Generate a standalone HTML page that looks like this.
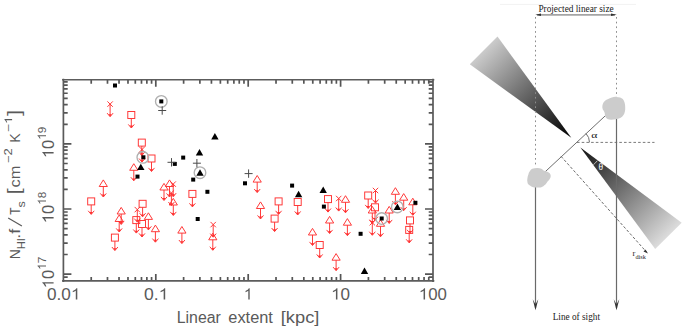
<!DOCTYPE html><html><head><meta charset="utf-8"><style>html,body{margin:0;padding:0;background:#fff;width:685px;height:330px;overflow:hidden}svg{display:block}.s{font-family:"Liberation Sans",sans-serif;fill:#5a5a5a}.g1 path{fill:#5a5a5a}.r{font-family:"Liberation Serif",serif;fill:#1a1a1a}.red{fill:none;stroke:#ff3030;stroke-width:0.95}.red .ah{fill:#ff3030;stroke:none}</style></head><body><svg width="685" height="330" viewBox="0 0 685 330"><g class="red"><rect x="127.8" y="111.5" width="7" height="7"/><path d="M131.3 118.5V127M128.3 124.4L131.3 128L134.3 124.4"/><path d="M129.7 125.6L131.3 128L132.9 125.6Z" class="ah"/><rect x="138.3" y="139.1" width="7" height="7"/><path d="M141.8 146.1V154.6M138.8 152L141.8 155.6L144.8 152"/><path d="M140.2 153.2L141.8 155.6L143.4 153.2Z" class="ah"/><rect x="148" y="155" width="7" height="7"/><path d="M151.5 162V170.5M148.5 167.9L151.5 171.5L154.5 167.9"/><path d="M149.9 169.1L151.5 171.5L153.1 169.1Z" class="ah"/><rect x="87.7" y="197.9" width="7" height="7"/><path d="M91.2 204.9V213.4M88.2 210.8L91.2 214.4L94.2 210.8"/><path d="M89.6 212L91.2 214.4L92.8 212Z" class="ah"/><rect x="139.1" y="200.3" width="7" height="7"/><path d="M142.6 207.3V215.8M139.6 213.2L142.6 216.8L145.6 213.2"/><path d="M141 214.4L142.6 216.8L144.2 214.4Z" class="ah"/><rect x="132.8" y="216.6" width="7" height="7"/><path d="M136.3 223.6V232.1M133.3 229.5L136.3 233.1L139.3 229.5"/><path d="M134.7 230.7L136.3 233.1L137.9 230.7Z" class="ah"/><rect x="138.5" y="220.5" width="7" height="7"/><path d="M142 227.5V236M139 233.4L142 237L145 233.4"/><path d="M140.4 234.6L142 237L143.6 234.6Z" class="ah"/><rect x="111.4" y="234.1" width="7" height="7"/><path d="M114.9 241.1V249.6M111.9 247L114.9 250.6L117.9 247"/><path d="M113.3 248.2L114.9 250.6L116.5 248.2Z" class="ah"/><rect x="188.9" y="190.4" width="7" height="7"/><path d="M192.4 197.4V205.9M189.4 203.3L192.4 206.9L195.4 203.3"/><path d="M190.8 204.5L192.4 206.9L194 204.5Z" class="ah"/><rect x="275.1" y="197.9" width="7" height="7"/><path d="M278.6 204.9V213.4M275.6 210.8L278.6 214.4L281.6 210.8"/><path d="M277 212L278.6 214.4L280.2 212Z" class="ah"/><rect x="271.1" y="215.1" width="7" height="7"/><path d="M274.6 222.1V230.6M271.6 228L274.6 231.6L277.6 228"/><path d="M273 229.2L274.6 231.6L276.2 229.2Z" class="ah"/><rect x="294.2" y="198.5" width="7" height="7"/><path d="M297.7 205.5V214M294.7 211.4L297.7 215L300.7 211.4"/><path d="M296.1 212.6L297.7 215L299.3 212.6Z" class="ah"/><rect x="324.5" y="195.6" width="7" height="7"/><path d="M328 202.6V211.1M325 208.5L328 212.1L331 208.5"/><path d="M326.4 209.7L328 212.1L329.6 209.7Z" class="ah"/><rect x="316.2" y="241.5" width="7" height="7"/><path d="M319.7 248.5V257M316.7 254.4L319.7 258L322.7 254.4"/><path d="M318.1 255.6L319.7 258L321.3 255.6Z" class="ah"/><rect x="364.7" y="192" width="7" height="7"/><path d="M368.2 199V207.5M365.2 204.9L368.2 208.5L371.2 204.9"/><path d="M366.6 206.1L368.2 208.5L369.8 206.1Z" class="ah"/><rect x="371.5" y="203.8" width="7" height="7"/><path d="M375 210.8V219.3M372 216.7L375 220.3L378 216.7"/><path d="M373.4 217.9L375 220.3L376.6 217.9Z" class="ah"/><rect x="406.5" y="216.9" width="7" height="7"/><path d="M410 223.9V232.4M407 229.8L410 233.4L413 229.8"/><path d="M408.4 231L410 233.4L411.6 231Z" class="ah"/><rect x="405.7" y="226.4" width="7" height="7"/><path d="M409.2 233.4V241.9M406.2 239.3L409.2 242.9L412.2 239.3"/><path d="M407.6 240.5L409.2 242.9L410.8 240.5Z" class="ah"/><path d="M103.3 179.9L107.4 186.5L99.2 186.5Z"/><path d="M103.3 186.5V196M100.3 193.4L103.3 197L106.3 193.4"/><path d="M101.7 194.6L103.3 197L104.9 194.6Z" class="ah"/><path d="M133.8 163.7L137.9 170.3L129.7 170.3Z"/><path d="M133.8 170.3V179.8M130.8 177.2L133.8 180.8L136.8 177.2"/><path d="M132.2 178.4L133.8 180.8L135.4 178.4Z" class="ah"/><path d="M121.2 207.4L125.3 214L117.1 214Z"/><path d="M121.2 214V223.5M118.2 220.9L121.2 224.5L124.2 220.9"/><path d="M119.6 222.1L121.2 224.5L122.8 222.1Z" class="ah"/><path d="M119.2 214.9L123.3 221.5L115.1 221.5Z"/><path d="M119.2 221.5V231M116.2 228.4L119.2 232L122.2 228.4"/><path d="M117.6 229.6L119.2 232L120.8 229.6Z" class="ah"/><path d="M148.4 212.8L152.5 219.4L144.3 219.4Z"/><path d="M148.4 219.4V228.9M145.4 226.3L148.4 229.9L151.4 226.3"/><path d="M146.8 227.5L148.4 229.9L150 227.5Z" class="ah"/><path d="M155.4 225.1L159.5 231.7L151.3 231.7Z"/><path d="M155.4 231.7V241.2M152.4 238.6L155.4 242.2L158.4 238.6"/><path d="M153.8 239.8L155.4 242.2L157 239.8Z" class="ah"/><path d="M164 183.4L168.1 190L159.9 190Z"/><path d="M164 190V199.5M161 196.9L164 200.5L167 196.9"/><path d="M162.4 198.1L164 200.5L165.6 198.1Z" class="ah"/><path d="M169.5 179.9L173.6 186.5L165.4 186.5Z"/><path d="M169.5 186.5V196M166.5 193.4L169.5 197L172.5 193.4"/><path d="M167.9 194.6L169.5 197L171.1 194.6Z" class="ah"/><path d="M173.3 198.4L177.4 205L169.2 205Z"/><path d="M173.3 205V214.5M170.3 211.9L173.3 215.5L176.3 211.9"/><path d="M171.7 213.1L173.3 215.5L174.9 213.1Z" class="ah"/><path d="M181.9 226.5L186 233.1L177.8 233.1Z"/><path d="M181.9 233.1V242.6M178.9 240L181.9 243.6L184.9 240"/><path d="M180.3 241.2L181.9 243.6L183.5 241.2Z" class="ah"/><path d="M212.8 233.2L216.9 239.8L208.7 239.8Z"/><path d="M212.8 239.8V249.3M209.8 246.7L212.8 250.3L215.8 246.7"/><path d="M211.2 247.9L212.8 250.3L214.4 247.9Z" class="ah"/><path d="M257.2 175.5L261.3 182.1L253.1 182.1Z"/><path d="M257.2 182.1V191.6M254.2 189L257.2 192.6L260.2 189"/><path d="M255.6 190.2L257.2 192.6L258.8 190.2Z" class="ah"/><path d="M260.5 201.9L264.6 208.5L256.4 208.5Z"/><path d="M260.5 208.5V218M257.5 215.4L260.5 219L263.5 215.4"/><path d="M258.9 216.6L260.5 219L262.1 216.6Z" class="ah"/><path d="M345.5 195.7L349.6 202.3L341.4 202.3Z"/><path d="M345.5 202.3V211.8M342.5 209.2L345.5 212.8L348.5 209.2"/><path d="M343.9 210.4L345.5 212.8L347.1 210.4Z" class="ah"/><path d="M312.5 228.4L316.6 235L308.4 235Z"/><path d="M312.5 235V244.5M309.5 241.9L312.5 245.5L315.5 241.9"/><path d="M310.9 243.1L312.5 245.5L314.1 243.1Z" class="ah"/><path d="M329.6 216.4L333.7 223L325.5 223Z"/><path d="M329.6 223V232.5M326.6 229.9L329.6 233.5L332.6 229.9"/><path d="M328 231.1L329.6 233.5L331.2 231.1Z" class="ah"/><path d="M347.4 218.6L351.5 225.2L343.3 225.2Z"/><path d="M347.4 225.2V234.7M344.4 232.1L347.4 235.7L350.4 232.1"/><path d="M345.8 233.3L347.4 235.7L349 233.3Z" class="ah"/><path d="M336.1 253.6L340.2 260.2L332 260.2Z"/><path d="M336.1 260.2V269.7M333.1 267.1L336.1 270.7L339.1 267.1"/><path d="M334.5 268.3L336.1 270.7L337.7 268.3Z" class="ah"/><path d="M372.3 206.4L376.4 213L368.2 213Z"/><path d="M372.3 213V222.5M369.3 219.9L372.3 223.5L375.3 219.9"/><path d="M370.7 221.1L372.3 223.5L373.9 221.1Z" class="ah"/><path d="M380.5 219.7L384.6 226.3L376.4 226.3Z"/><path d="M380.5 226.3V235.8M377.5 233.2L380.5 236.8L383.5 233.2"/><path d="M378.9 234.4L380.5 236.8L382.1 234.4Z" class="ah"/><path d="M389.2 206.4L393.3 213L385.1 213Z"/><path d="M389.2 213V222.5M386.2 219.9L389.2 223.5L392.2 219.9"/><path d="M387.6 221.1L389.2 223.5L390.8 221.1Z" class="ah"/><path d="M395.4 187.7L399.5 194.3L391.3 194.3Z"/><path d="M395.4 194.3V203.8M392.4 201.2L395.4 204.8L398.4 201.2"/><path d="M393.8 202.4L395.4 204.8L397 202.4Z" class="ah"/><path d="M403.7 193.6L407.8 200.2L399.6 200.2Z"/><path d="M403.7 200.2V209.7M400.7 207.1L403.7 210.7L406.7 207.1"/><path d="M402.1 208.3L403.7 210.7L405.3 208.3Z" class="ah"/><path d="M412.8 198.2L416.9 204.8L408.7 204.8Z"/><path d="M412.8 204.8V214.3M409.8 211.7L412.8 215.3L415.8 211.7"/><path d="M411.2 212.9L412.8 215.3L414.4 212.9Z" class="ah"/><path d="M107.4 101.4L112.8 106.8M107.4 106.8L112.8 101.4"/><path d="M110.1 104.1V115.7M107.1 113.1L110.1 116.7L113.1 113.1"/><path d="M108.5 114.3L110.1 116.7L111.7 114.3Z" class="ah"/><path d="M134.6 206.9L140 212.3M134.6 212.3L140 206.9"/><path d="M137.3 209.6V221.2M134.3 218.6L137.3 222.2L140.3 218.6"/><path d="M135.7 219.8L137.3 222.2L138.9 219.8Z" class="ah"/><path d="M170.5 181.4L175.9 186.8M170.5 186.8L175.9 181.4"/><path d="M173.2 184.1V195.7M170.2 193.1L173.2 196.7L176.2 193.1"/><path d="M171.6 194.3L173.2 196.7L174.8 194.3Z" class="ah"/><path d="M168.7 190.3L174.1 195.7M168.7 195.7L174.1 190.3"/><path d="M171.4 193V204.6M168.4 202L171.4 205.6L174.4 202"/><path d="M169.8 203.2L171.4 205.6L173 203.2Z" class="ah"/><path d="M210.5 221.9L215.9 227.3M210.5 227.3L215.9 221.9"/><path d="M213.2 224.6V236.2M210.2 233.6L213.2 237.2L216.2 233.6"/><path d="M211.6 234.8L213.2 237.2L214.8 234.8Z" class="ah"/><path d="M336 195.8L341.4 201.2M336 201.2L341.4 195.8"/><path d="M338.7 198.5V210.1M335.7 207.5L338.7 211.1L341.7 207.5"/><path d="M337.1 208.7L338.7 211.1L340.3 208.7Z" class="ah"/><path d="M372.8 187.8L378.2 193.2M372.8 193.2L378.2 187.8"/><path d="M375.5 190.5V202.1M372.5 199.5L375.5 203.1L378.5 199.5"/><path d="M373.9 200.7L375.5 203.1L377.1 200.7Z" class="ah"/><path d="M369.6 220L375 225.4M369.6 225.4L375 220"/><path d="M372.3 222.7V234.3M369.3 231.7L372.3 235.3L375.3 231.7"/><path d="M370.7 232.9L372.3 235.3L373.9 232.9Z" class="ah"/><path d="M139.3 146.8L144.7 152.2M139.3 152.2L144.7 146.8"/><path d="M142 149.5V161.1M139 158.5L142 162.1L145 158.5"/><path d="M140.4 159.7L142 162.1L143.6 159.7Z" class="ah"/></g><g fill="none" stroke="#b0b0b0" stroke-width="1.35"><circle cx="161.3" cy="101.4" r="5.8"/><circle cx="142.8" cy="157.3" r="5.8"/><circle cx="200" cy="172.7" r="5.8"/><circle cx="381.7" cy="218.5" r="5.8"/><circle cx="397.3" cy="206.9" r="5.8"/></g><g fill="#000"><rect x="113" y="83.5" width="4" height="4"/><rect x="141.4" y="155.3" width="4" height="4"/><rect x="135.5" y="174.6" width="4" height="4"/><rect x="172.8" y="161.9" width="4" height="4"/><rect x="181.2" y="155.6" width="4" height="4"/><rect x="191.2" y="177.6" width="4" height="4"/><rect x="205.4" y="189.8" width="4" height="4"/><rect x="195.7" y="217" width="4" height="4"/><rect x="243" y="181.3" width="4" height="4"/><rect x="290.1" y="183.6" width="4" height="4"/><rect x="321.9" y="204.6" width="4" height="4"/><rect x="358.6" y="231.8" width="4" height="4"/><rect x="379.7" y="216.5" width="4" height="4"/><rect x="413.4" y="200.8" width="4" height="4"/><rect x="159.3" y="99.4" width="4" height="4"/><path d="M140.8 163.7L144.5 170.1L137.1 170.1Z"/><path d="M199.5 149.1L203.2 155.5L195.8 155.5Z"/><path d="M200 169.3L203.7 175.7L196.3 175.7Z"/><path d="M214.9 133L218.6 139.4L211.2 139.4Z"/><path d="M298.6 190.8L302.3 197.2L294.9 197.2Z"/><path d="M323.2 186.5L326.9 192.9L319.5 192.9Z"/><path d="M364.5 267.5L368.2 273.9L360.8 273.9Z"/><path d="M397.4 203.6L401.1 210L393.7 210Z"/></g><g stroke="#4a4a4a" stroke-width="1" fill="none"><path d="M158.2 110.5H166.2M162.2 106.3V114.7"/><path d="M167.5 162.3H175.5M171.5 158.1V166.5"/><path d="M192.9 163.2H200.9M196.9 159V167.4"/><path d="M244.6 173.6H252.6M248.6 169.4V177.8"/></g><path d="M91.22 280.9v-4M91.22 79.7v4M107.49 280.9v-4M107.49 79.7v4M119.03 280.9v-4M119.03 79.7v4M127.98 280.9v-4M127.98 79.7v4M135.3 280.9v-4M135.3 79.7v4M141.49 280.9v-4M141.49 79.7v4M146.85 280.9v-4M146.85 79.7v4M151.57 280.9v-4M151.57 79.7v4M155.8 280.9v-7M155.8 79.7v7M183.62 280.9v-4M183.62 79.7v4M199.89 280.9v-4M199.89 79.7v4M211.43 280.9v-4M211.43 79.7v4M220.38 280.9v-4M220.38 79.7v4M227.7 280.9v-4M227.7 79.7v4M233.89 280.9v-4M233.89 79.7v4M239.25 280.9v-4M239.25 79.7v4M243.97 280.9v-4M243.97 79.7v4M248.2 280.9v-7M248.2 79.7v7M276.02 280.9v-4M276.02 79.7v4M292.29 280.9v-4M292.29 79.7v4M303.83 280.9v-4M303.83 79.7v4M312.78 280.9v-4M312.78 79.7v4M320.1 280.9v-4M320.1 79.7v4M326.29 280.9v-4M326.29 79.7v4M331.65 280.9v-4M331.65 79.7v4M336.37 280.9v-4M336.37 79.7v4M340.6 280.9v-7M340.6 79.7v7M368.42 280.9v-4M368.42 79.7v4M384.69 280.9v-4M384.69 79.7v4M396.23 280.9v-4M396.23 79.7v4M405.18 280.9v-4M405.18 79.7v4M412.5 280.9v-4M412.5 79.7v4M418.69 280.9v-4M418.69 79.7v4M424.05 280.9v-4M424.05 79.7v4M428.77 280.9v-4M428.77 79.7v4M63.4 277.08h4.3M433 277.08h-4.3M63.4 274.1h8M433 274.1h-8M63.4 254.5h4.3M433 254.5h-4.3M63.4 243.04h4.3M433 243.04h-4.3M63.4 234.91h4.3M433 234.91h-4.3M63.4 228.6h4.3M433 228.6h-4.3M63.4 223.44h4.3M433 223.44h-4.3M63.4 219.08h4.3M433 219.08h-4.3M63.4 215.31h4.3M433 215.31h-4.3M63.4 211.98h4.3M433 211.98h-4.3M63.4 209h8M433 209h-8M63.4 189.4h4.3M433 189.4h-4.3M63.4 177.94h4.3M433 177.94h-4.3M63.4 169.81h4.3M433 169.81h-4.3M63.4 163.5h4.3M433 163.5h-4.3M63.4 158.34h4.3M433 158.34h-4.3M63.4 153.98h4.3M433 153.98h-4.3M63.4 150.21h4.3M433 150.21h-4.3M63.4 146.88h4.3M433 146.88h-4.3M63.4 143.9h8M433 143.9h-8M63.4 124.3h4.3M433 124.3h-4.3M63.4 112.84h4.3M433 112.84h-4.3M63.4 104.71h4.3M433 104.71h-4.3M63.4 98.4h4.3M433 98.4h-4.3M63.4 93.24h4.3M433 93.24h-4.3M63.4 88.88h4.3M433 88.88h-4.3M63.4 85.11h4.3M433 85.11h-4.3M63.4 81.78h4.3M433 81.78h-4.3" stroke="#555" stroke-width="1.7" fill="none"/><path d="M62.1 79.7H434.3M62.1 280.9H434.3" stroke="#5c5c5c" stroke-width="1.6" fill="none"/><path d="M63.4 78.7V282M433 78.7V282" stroke="#5a5a5a" stroke-width="1.7" fill="none"/><g class="g1" transform="translate(47.7 299.5) scale(1.0941 1) translate(-0.61 0)"><text class="s" x="0" y="0" font-size="15.7">0.0</text><path d="M26.28 0L27.67 0L27.67 -11.24L26.82 -11.24C26.41 -10.28 25.36 -9.39 23.51 -8.54L23.51 -7.21C24.65 -7.65 25.67 -8.2 26.28 -8.79Z"/></g><g class="g1" transform="translate(144.7 299.5) scale(1.1189 1) translate(-0.61 0)"><text class="s" x="0" y="0" font-size="15.7">0.</text><path d="M17.55 0L18.93 0L18.93 -11.24L18.09 -11.24C17.68 -10.28 16.63 -9.39 14.77 -8.54L14.77 -7.21C15.92 -7.65 16.94 -8.2 17.55 -8.79Z"/></g><g class="g1" transform="translate(245.52 299.5) scale(1.0000 1) translate(-1.68 0)"><path d="M4.46 0L5.84 0L5.84 -11.24L4.99 -11.24C4.58 -10.28 3.53 -9.39 1.68 -8.54L1.68 -7.21C2.83 -7.65 3.85 -8.2 4.46 -8.79Z"/></g><g class="g1" transform="translate(332.9 299.5) scale(1.0878 1) translate(-1.68 0)"><path d="M4.46 0L5.84 0L5.84 -11.24L4.99 -11.24C4.58 -10.28 3.53 -9.39 1.68 -8.54L1.68 -7.21C2.83 -7.65 3.85 -8.2 4.46 -8.79Z"/><text class="s" x="8.73" y="0" font-size="15.7">0</text></g><g class="g1" transform="translate(420.6 299.5) scale(1.0711 1) translate(-1.68 0)"><path d="M4.46 0L5.84 0L5.84 -11.24L4.99 -11.24C4.58 -10.28 3.53 -9.39 1.68 -8.54L1.68 -7.21C2.83 -7.65 3.85 -8.2 4.46 -8.79Z"/><text class="s" x="8.73" y="0" font-size="15.7">00</text></g><g class="g1" transform="translate(53.6 156.3) rotate(-90) scale(1.0482 1) translate(-1.68 0)"><path d="M4.46 0L5.84 0L5.84 -11.24L4.99 -11.24C4.58 -10.28 3.53 -9.39 1.68 -8.54L1.68 -7.21C2.83 -7.65 3.85 -8.2 4.46 -8.79Z"/><text class="s" x="8.73" y="0" font-size="15.7">0</text></g><g class="g1" transform="translate(46 138.4) rotate(-90) scale(0.9906 1) translate(-1.26 0)"><path d="M3.35 0L4.39 0L4.39 -8.45L3.75 -8.45C3.45 -7.73 2.66 -7.06 1.26 -6.42L1.26 -5.42C2.12 -5.75 2.89 -6.16 3.35 -6.61Z"/><text class="s" x="6.56" y="0" font-size="11.8">9</text></g><g class="g1" transform="translate(53.6 221.4) rotate(-90) scale(1.0482 1) translate(-1.68 0)"><path d="M4.46 0L5.84 0L5.84 -11.24L4.99 -11.24C4.58 -10.28 3.53 -9.39 1.68 -8.54L1.68 -7.21C2.83 -7.65 3.85 -8.2 4.46 -8.79Z"/><text class="s" x="8.73" y="0" font-size="15.7">0</text></g><g class="g1" transform="translate(46 203.5) rotate(-90) scale(0.9865 1) translate(-1.26 0)"><path d="M3.35 0L4.39 0L4.39 -8.45L3.75 -8.45C3.45 -7.73 2.66 -7.06 1.26 -6.42L1.26 -5.42C2.12 -5.75 2.89 -6.16 3.35 -6.61Z"/><text class="s" x="6.56" y="0" font-size="11.8">8</text></g><g class="g1" transform="translate(53.6 286.5) rotate(-90) scale(1.0482 1) translate(-1.68 0)"><path d="M4.46 0L5.84 0L5.84 -11.24L4.99 -11.24C4.58 -10.28 3.53 -9.39 1.68 -8.54L1.68 -7.21C2.83 -7.65 3.85 -8.2 4.46 -8.79Z"/><text class="s" x="8.73" y="0" font-size="15.7">0</text></g><g class="g1" transform="translate(46 268.6) rotate(-90) scale(0.9937 1) translate(-1.26 0)"><path d="M3.35 0L4.39 0L4.39 -8.45L3.75 -8.45C3.45 -7.73 2.66 -7.06 1.26 -6.42L1.26 -5.42C2.12 -5.75 2.89 -6.16 3.35 -6.61Z"/><text class="s" x="6.56" y="0" font-size="11.8">7</text></g><text class="s" font-size="16" transform="translate(178 323.2) scale(0.9931 1) translate(-1.31 0)">Linear</text><text class="s" font-size="16" transform="translate(229 323.2) scale(1.0234 1) translate(-0.67 0)">extent</text><text class="s" font-size="16" transform="translate(282.1 323.2) scale(1.1421 1) translate(-1.14 0)">[kpc]</text><text class="s" font-size="14.2" transform="translate(19.9 258.2) rotate(-90) scale(0.9826 1) translate(-1.16 0)">N</text><text class="s" font-size="10.6" transform="translate(25.4 248.4) rotate(-90) scale(1.0508 1) translate(-0.87 0)">HI</text><text class="s" font-size="14.2" transform="translate(19.9 237.2) rotate(-90) scale(1.2543 1) translate(-1.29 0)">.f</text><text class="s" font-size="14.2" transform="translate(19.9 214.4) rotate(-90) scale(0.8336 1) translate(-0.31 0)">T</text><text class="s" font-size="10.6" transform="translate(25.4 207.1) rotate(-90) scale(1.1901 1) translate(-0.3 0)">s</text><text class="s" font-size="17.5" transform="translate(19.6 192.8) rotate(-90) scale(1.2060 1) translate(-1.24 0)">[</text><text class="s" font-size="14.2" transform="translate(19.9 186.7) rotate(-90) scale(1.1555 1) translate(-0.6 0)">cm</text><text class="s" font-size="10.6" transform="translate(12.1 162.5) rotate(-90) scale(1.2325 1) translate(-0.52 0)">&#8722;2</text><text class="s" font-size="14.2" transform="translate(19.9 141.6) rotate(-90) scale(0.9955 1) translate(-1.16 0)">K</text><g class="g1" transform="translate(12.1 131.6) rotate(-90) scale(1.3210 1) translate(-0.52 0)"><text class="s" x="0" y="0" font-size="10.6">&#8722;</text><path d="M9.2 0L10.13 0L10.13 -7.59L9.56 -7.59C9.29 -6.94 8.58 -6.34 7.32 -5.77L7.32 -4.87C8.1 -5.16 8.79 -5.53 9.2 -5.94Z"/></g><text class="s" font-size="17.5" transform="translate(19.6 115.9) rotate(-90) scale(1.2635 1) translate(-0.14 0)">]</text><line x1="21.9" y1="225.9" x2="8.2" y2="218" stroke="#5a5a5a" stroke-width="1.2"/><line x1="500" y1="4.4" x2="636" y2="4.4" stroke="#f2f2f2" stroke-width="1"/><defs><linearGradient id="gL" gradientUnits="userSpaceOnUse" x1="483.7" y1="50.5" x2="571.3" y2="137.8"><stop offset="0" stop-color="#cbcbcb"/><stop offset="1" stop-color="#000"/></linearGradient><linearGradient id="gR" gradientUnits="userSpaceOnUse" x1="580.4" y1="147.6" x2="668.5" y2="235.8"><stop offset="0" stop-color="#111"/><stop offset="1" stop-color="#dcdcdc"/></linearGradient></defs><path d="M497.5 36.6L469.8 64.3L571.3 137.8Z" fill="url(#gL)"/><path d="M580.4 147.6L681.7 222.7L655.2 248.9Z" fill="url(#gR)"/><path d="M597.4 160.6A21.5 21.5 0 0 1 593.4 164.7" fill="none" stroke="#d8d8d8" stroke-width="0.85"/><text class="r" x="598.5" y="170" font-size="9.6" style="fill:#fff">&#952;</text><g stroke="#7a7a7a" stroke-width="1" fill="none"><path d="M535.5 17V167M616.5 17V97" stroke-dasharray="1.7 3" stroke="#8c8c8c"/><path d="M577 142.4H654.5" stroke-dasharray="2.6 2.1"/><path d="M561 156.3L646.5 252" stroke-dasharray="2.8 1.9" stroke="#6a6a6a"/></g><g stroke="#6e6e6e" stroke-width="1" fill="none"><path d="M537 14.8H615" stroke="#a4a4a4" stroke-width="1.7"/><path d="M535.5 186V308M616.5 118V308" stroke="#6a6a6a" stroke-width="1.2"/><path d="M539 177.5L613 108.6"/><path d="M585.9 133.4A13 13 0 0 1 589.5 142.4"/></g><g fill="#333"><path d="M535.3 14.8L541 13.5L541 16.1Z"/><path d="M616.8 14.8L611 13.5L611 16.1Z"/><path d="M535.5 310.3L532.7 299.2L535.5 304.5L538.3 299.2Z"/><path d="M616.5 310.3L613.7 299.2L616.5 304.5L619.3 299.2Z"/><path d="M648 253.5L643.5 251.5L645.5 249.5Z"/></g><path d="M607.7 99.3C611 97.5 614 96.6 616.4 96.9C619 97 621.5 97.5 622.8 99C624.5 101 625.2 104 625.2 107C625.4 110.5 624.8 113 623.5 115C622 117.5 619 119 615.5 119.3C612.5 119.8 609.5 120 607.5 119C605.5 118 604.8 116 604.8 113.5C604.5 111.5 603.5 110.5 602.8 109.5C602 107.5 602.2 104.5 603.5 102.5C604.5 101 606 100 607.7 99.3Z" fill="#cccccc"/><path d="M532.2 168.8C535 167.8 539 167.5 541.4 168.8C542.5 169.5 543.2 170.3 543.9 170.8C545.5 170.8 548 171.8 549.7 173.2C551 174.5 551.2 177 549.7 179C548.8 180.3 547.8 181.2 547.3 181.9C546.3 183.5 545.5 184.5 544.4 185.3C543 186.8 541.5 187.3 540.5 187.4C538 187.6 536 187.6 534.7 187.4C532.5 187.2 531 186.6 530.3 185.8C528.6 184.8 527.6 183.6 527.5 182.4C527.1 181 527.1 179.7 527.4 178.5C527.5 177 527.8 175.8 528.3 174.7C528.6 173.3 529 172.2 529.8 171.3C530.5 170 531.2 169.3 532.2 168.8Z" fill="#cccccc"/><text class="r" x="538.4" y="11.9" font-size="10" textLength="75.3" lengthAdjust="spacingAndGlyphs">Projected linear size</text><text class="r" x="552.7" y="319.5" font-size="9.5" textLength="47.3" lengthAdjust="spacingAndGlyphs">Line of sight</text><text class="r" font-size="10.5" transform="translate(591.2 137.7) scale(1.12 0.86)" style="fill:#111">&#945;</text><text class="r" x="632.6" y="256.3" font-size="8.5">r<tspan font-size="6.2" dy="2.9">disk</tspan></text></svg></body></html>
